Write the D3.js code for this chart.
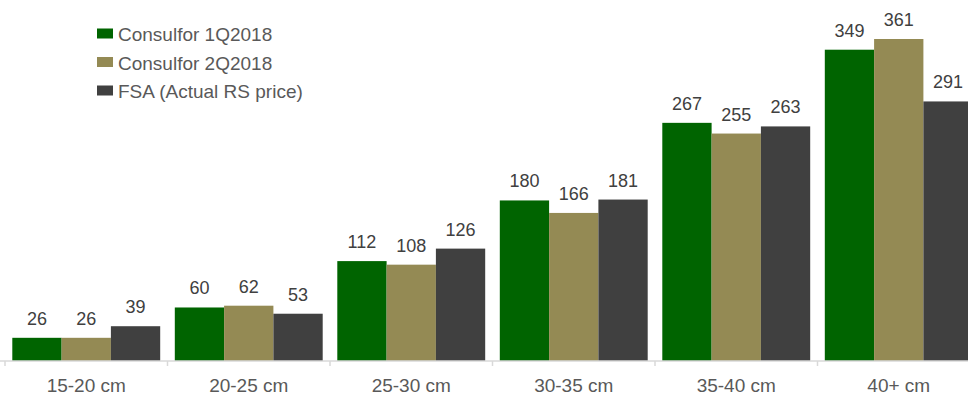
<!DOCTYPE html>
<html><head><meta charset="utf-8">
<script src="https://cdn.jsdelivr.net/npm/d3@7"></script>
<style>body{margin:0;background:#fff;}svg{display:block;font-family:"Liberation Sans",Arial,sans-serif;}</style>
</head><body>
<svg id="c" width="968" height="396"></svg>
<script>
const categories = ["15-20 cm","20-25 cm","25-30 cm","30-35 cm","35-40 cm","40+ cm"];
const seriesNames = ["Consulfor 1Q2018","Consulfor 2Q2018","FSA (Actual RS price)"];
const consulfor1Q = [26,60,112,180,267,349];
const consulfor2Q = [26,62,108,166,255,361];
const fsaActual = [39,53,126,181,263,291];
const colors = ["#006400","#948A54","#404040"];

const svg = d3.select("#c");
const series = [consulfor1Q, consulfor2Q, fsaActual];
const x0 = d3.scaleBand().domain(categories).range([5, 980]).paddingInner(0).paddingOuter(0);
const x1 = d3.scaleBand().domain(d3.range(3)).range([7.3, x0.bandwidth()-7.3]);
const y = d3.scaleLinear().domain([0, 361]).range([361, 39]);

const g = svg.append("g");
categories.forEach((c, i) => {
  series.forEach((s, j) => {
    const v = s[i];
    g.append("rect")
      .attr("x", x0(c) + x1(j)).attr("y", y(v))
      .attr("width", x1.bandwidth()).attr("height", y(0) - y(v))
      .attr("fill", colors[j]);
    g.append("text")
      .attr("x", x0(c) + x1(j) + x1.bandwidth()/2).attr("y", y(v) - 13)
      .attr("text-anchor", "middle").attr("font-size", 18).attr("fill", "#404040")
      .text(v);
  });
});

const axis = d3.axisBottom(x0).tickSize(0).tickPadding(0);
const ax = svg.append("g").attr("transform", "translate(0,361)");
ax.append("line").attr("x1", 0).attr("x2", 968).attr("stroke", "#d9d9d9").attr("stroke-width", 1.5);
d3.range(categories.length + 1).forEach(i => {
  const xx = 5 + i * x0.step();
  ax.append("line").attr("x1", xx).attr("x2", xx).attr("y1", 0).attr("y2", 5).attr("stroke", "#d9d9d9").attr("stroke-width", 1.5);
});
categories.forEach(c => {
  ax.append("text").attr("x", x0(c) + x0.bandwidth()/2).attr("y", 31)
    .attr("text-anchor", "middle").attr("font-size", 19).attr("fill", "#595959").text(c);
});

const leg = svg.append("g");
seriesNames.forEach((n, i) => {
  const yy = 28.5 + i * 28.5;
  leg.append("rect").attr("x", 97).attr("y", yy).attr("width", 16).attr("height", 10).attr("fill", colors[i]);
  leg.append("text").attr("x", 118).attr("y", yy + 12.5).attr("font-size", 19).attr("fill", "#595959").text(n);
});
</script>
</body></html>
